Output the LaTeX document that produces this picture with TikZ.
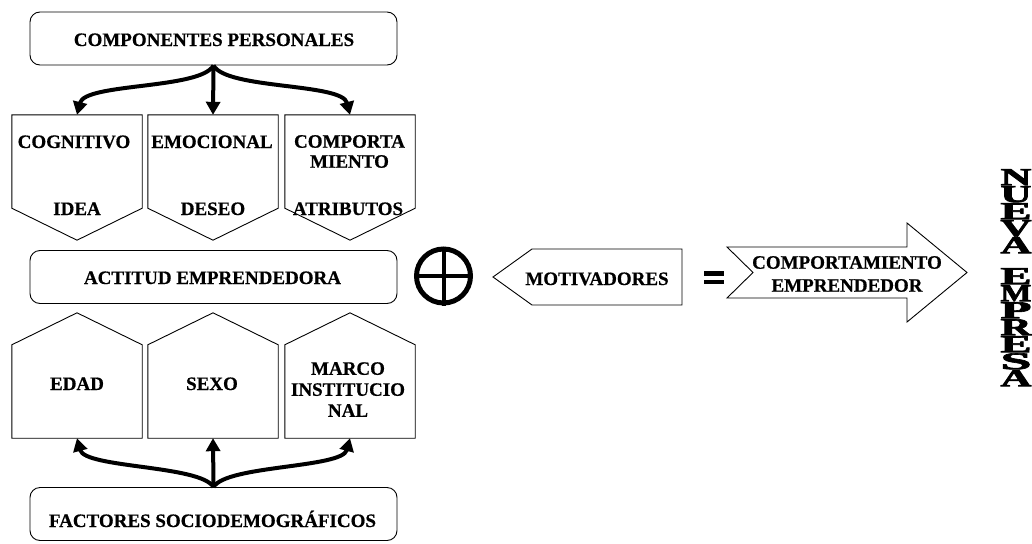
\documentclass[tikz,border=0pt]{standalone}
\usepackage{fontspec}
\setmainfont[BoldFeatures={FakeBold=0.6}]{Liberation Serif}
\newfontfamily\heavyfont[BoldFeatures={FakeBold=2.5}]{Liberation Serif}
\usetikzlibrary{arrows.meta,calc}
% one widened capital of the vertical word
\newcommand{\wideletter}[1]{\resizebox{31pt}{16pt}{#1}}

\begin{document}
\begin{tikzpicture}[x=1pt,y=-1pt,
  txt/.style={font=\bfseries\fontsize{19}{21}\selectfont,inner sep=0pt,align=center},
  rbox/.style={draw,line width=0.9pt,rounded corners=10pt,minimum width=367pt,minimum height=53pt,inner sep=0pt},
  body/.style={inner sep=0pt,minimum width=130pt,minimum height=93pt},
  outline/.style={draw,line width=0.9pt,line join=miter},
  conn/.style={line width=4pt,-{Triangle[width=14pt,length=13pt]}},
  stacked/.style={inner sep=0pt,align=center,font=\heavyfont\bfseries\fontsize{10}{17}\selectfont}
]
\useasboundingbox (0,0) rectangle (1032,543);

% rounded boxes
\node[rbox] (cp) at (213.5,38.5) {};
\node[rbox] (ae) at (213.5,277) {};
\node[rbox] (fs) at (213.5,514) {};
\node[txt,anchor=base] (cpT) at (214,46) {COMPONENTES PERSONALES};
\node[txt,anchor=base] (aeT) at (212.5,284) {ACTITUD EMPRENDEDORA};
\node[txt,anchor=base] (fsT) at (212.5,527) {FACTORES SOCIODEMOGRÁFICOS};

% upper components (pointing down)
\node[body] (cog) at (77,161.5) {};
\node[body] (emo) at (213,161.5) {};
\node[body] (cpt) at (350,161.5) {};
\foreach \n in {cog,emo,cpt}{
  \draw[outline] (\n.north west) -- (\n.north east) -- (\n.south east)
    -- ($(\n.south)+(0,32)$) -- (\n.south west) -- cycle;
}
\node[txt,anchor=base] (cogA) at (74,148) {COGNITIVO};
\node[txt,anchor=base] (cogB) at (77,215) {IDEA};
\node[txt,anchor=base] (emoA) at (212,148) {EMOCIONAL};
\node[txt,anchor=base] (emoB) at (213,215) {DESEO};
\node[txt,font=\bfseries\fontsize{19}{20}\selectfont] (cptA) at (349.5,151.5) {COMPORTA\\MIENTO};
\node[txt,anchor=base] (cptB) at (348,215) {ATRIBUTOS};

% lower factors (pointing up)
\node[body] (eda) at (77,391.5) {};
\node[body] (sex) at (213,391.5) {};
\node[body] (mar) at (350,391.5) {};
\foreach \n in {eda,sex,mar}{
  \draw[outline] (\n.south west) -- (\n.south east) -- (\n.north east)
    -- ($(\n.north)+(0,-32)$) -- (\n.north west) -- cycle;
}
\node[txt,anchor=base] (edaT) at (77,390) {EDAD};
\node[txt,anchor=base] (sexT) at (212,390) {SEXO};
\node[txt] (marT) at (348,389.5) {MARCO\\INSTITUCIO\\NAL};

% connectors from the personal components
\draw[conn] (cp.south) .. controls +(-13,24) and +(8,-32) .. (cog.north);
\draw[conn] (cp.south) -- (emo.north);
\draw[conn] (cp.south) .. controls +(13,24) and +(-8,-32) .. (cpt.north);

% connectors from the sociodemographic factors
\draw[conn] (fs.north) .. controls +(-13,-22) and +(8,30) .. (eda.south);
\draw[conn] (fs.north) -- (sex.south);
\draw[conn] (fs.north) .. controls +(13,-22) and +(-8,30) .. (mar.south);

% plus sign
\node[circle,draw,line width=5pt,minimum size=54pt,inner sep=0pt] (plus) at (443.5,276) {};
\draw[line width=4pt] (plus.west) -- (plus.east);
\draw[line width=4pt] (plus.north) -- (plus.south);

% motivators
\coordinate (mo) at (493,277);
\draw[outline] (mo) -- (532,249) -- (682,249) -- (682,305) -- (532,305) -- cycle;
\node[txt,anchor=base] (moT) at (597,285) {MOTIVADORES};

% equals sign
\fill (704,271) rectangle (724,275.5);
\fill (704,279.5) rectangle (724,284);

% resulting behaviour arrow
\draw[outline] (727,247) -- (907,247) -- (907,223) -- (967,272.5) -- (907,322)
  -- (907,298) -- (727,298) -- (753,272.5) -- cycle;
\node[txt,font=\bfseries\fontsize{19}{23}\selectfont] (ceT) at (847,274) {COMPORTAMIENTO\\EMPRENDEDOR};

% vertical stacked word in heavy, widened letters
\node[stacked,anchor=north] (ne) at (1016,169)
  {\wideletter{N}\\\wideletter{U}\\\wideletter{E}\\\wideletter{V}\\\wideletter{A}\\[14pt]
   \wideletter{E}\\\wideletter{M}\\\wideletter{P}\\\wideletter{R}\\\wideletter{E}\\\wideletter{S}\\\wideletter{A}};
\end{tikzpicture}
\end{document}
